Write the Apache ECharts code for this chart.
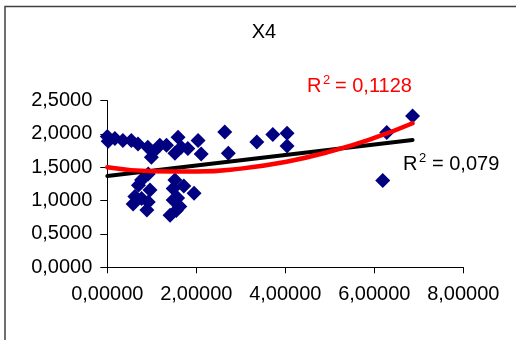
<!DOCTYPE html>
<html>
<head>
<meta charset="utf-8">
<script src="https://cdn.jsdelivr.net/npm/echarts@6/dist/echarts.min.js"></script>
<style>html,body{margin:0;padding:0;background:#fff;}#c{width:516px;height:340px;}</style>
</head>
<body>
<div id="c"></div>
<script>
// Scatter values (x, y)
var pointsX = [0.00,0.02,0.17,0.35,0.54,0.69,0.91,0.99,1.03,1.18,1.33,1.52,1.59,1.66,1.81,2.04,2.11,2.64,2.72,3.36,3.72,4.04,4.04,6.28,6.86,6.19,
               0.92,0.77,0.70,0.96,0.62,0.77,0.92,0.89,0.58,1.52,1.48,1.72,1.95,1.48,1.58,1.63,1.41,1.55];
var pointsY = [1.96,1.89,1.93,1.90,1.90,1.85,1.80,1.65,1.73,1.83,1.83,1.71,1.95,1.80,1.78,1.90,1.70,2.03,1.71,1.88,1.99,2.01,1.82,2.02,2.27,1.30,
               1.40,1.31,1.23,1.16,1.06,1.03,0.98,0.86,0.95,1.31,1.18,1.22,1.11,1.01,1.04,0.91,0.78,0.85];
// Linear trend line (end points)
var linearX = [0, 6.86];
var linearY = [1.37, 1.91];
// Polynomial trend line
var polyX = [0, 1, 2, 3, 4, 5, 6, 6.86];
var polyY = [1.50, 1.44, 1.435, 1.48, 1.58, 1.735, 1.94, 2.16];
// Tick settings
var xTicks = [0, 2, 4, 6, 8];
var yTicks = [0, 0.5, 1, 1.5, 2, 2.5];
var titleText = 'X4';
var labelPoly = ['R', '2', '= 0,1128'];
var labelLin = ['R', '2', '= 0,079'];

function zip(a, b) { return a.map(function (v, i) { return [v, b[i]]; }); }

var FONT = '"Liberation Sans", Arial, sans-serif';
var chart = echarts.init(document.getElementById('c'), null, {renderer: 'canvas'});
chart.setOption({
  animation: false,
  backgroundColor: '#fff',
  grid: {left: 107.3, right: 52.7, top: 100.6, bottom: 72.7},
  xAxis: {
    type: 'value', min: xTicks[0], max: xTicks[xTicks.length - 1], interval: 2,
    axisLine: {show: true, onZero: false, lineStyle: {color: '#000', width: 1}},
    axisTick: {show: true, length: 6, lineStyle: {color: '#000'}},
    splitLine: {show: false},
    axisLabel: {margin: 17, color: '#000', fontSize: 20, fontFamily: FONT,
      formatter: function (v) { return v.toFixed(5).replace('.', ','); }}
  },
  yAxis: {
    type: 'value', min: yTicks[0], max: yTicks[yTicks.length - 1], interval: 0.5,
    axisLine: {show: true, lineStyle: {color: '#000', width: 1}},
    axisTick: {show: true, length: 7, lineStyle: {color: '#000'}},
    splitLine: {show: false},
    axisLabel: {margin: 15, color: '#000', fontSize: 20, fontFamily: FONT,
      formatter: function (v) { return v.toFixed(4).replace('.', ','); }}
  },
  series: [
    {type: 'scatter', data: zip(pointsX, pointsY), symbol: 'diamond', symbolSize: 15,
     itemStyle: {color: '#000080', opacity: 1}, z: 2},
    {type: 'line', data: zip(linearX, linearY), showSymbol: false, symbol: 'none',
     lineStyle: {color: '#000', width: 4, cap: 'round'}, z: 3},
    {type: 'line', data: zip(polyX, polyY), showSymbol: false, symbol: 'none', smooth: true,
     lineStyle: {color: '#ff0000', width: 4.5, cap: 'round'}, z: 4}
  ],
  graphic: [
    {type: 'rect', shape: {x: 5, y: 6.5, width: 620, height: 420}, style: {fill: 'none', stroke: '#404040', lineWidth: 1.5}, silent: true},
    {type: 'text', style: {text: titleText, x: 264, y: 22, textAlign: 'center', verticalAlign: 'top', font: '20px ' + FONT, fill: '#000'}},
    {type: 'text', style: {text: labelPoly[0], x: 307, y: 76, verticalAlign: 'top', font: '20px ' + FONT, fill: '#ff0000'}},
    {type: 'text', style: {text: labelPoly[1], x: 323, y: 74, verticalAlign: 'top', font: '13px ' + FONT, fill: '#ff0000'}},
    {type: 'text', style: {text: labelPoly[2], x: 335, y: 76, verticalAlign: 'top', font: '20px ' + FONT, fill: '#ff0000'}},
    {type: 'text', style: {text: labelLin[0], x: 403, y: 154, verticalAlign: 'top', font: '20px ' + FONT, fill: '#000'}},
    {type: 'text', style: {text: labelLin[1], x: 419, y: 152, verticalAlign: 'top', font: '13px ' + FONT, fill: '#000'}},
    {type: 'text', style: {text: labelLin[2], x: 432, y: 154, verticalAlign: 'top', font: '20px ' + FONT, fill: '#000'}}
  ]
});
</script>
</body>
</html>
